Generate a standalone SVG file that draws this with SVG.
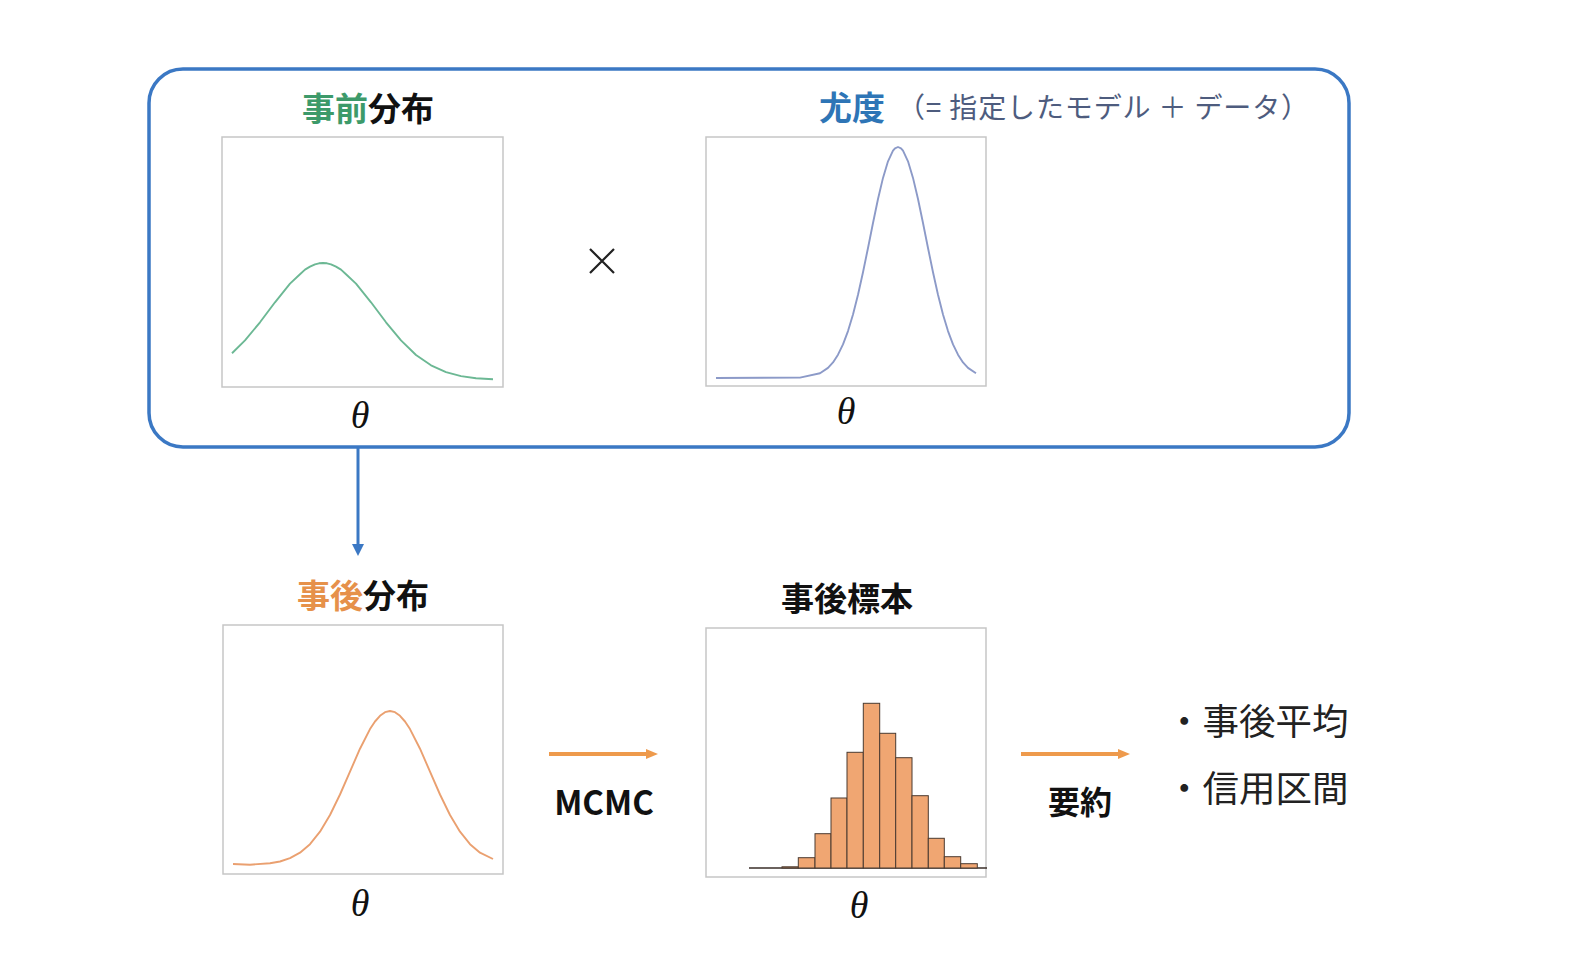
<svg xmlns="http://www.w3.org/2000/svg" width="1570" height="956" viewBox="0 0 1570 956">
<style>
.box{fill:#fff;stroke:#c6c6c6;stroke-width:1.5}
.jp{font-family:"Noto Sans CJK JP","Noto Sans",sans-serif}
.b{font-weight:bold}
.theta{font-family:"Liberation Serif",serif;font-style:italic;font-size:38px;fill:#111;text-anchor:middle}
.curve{fill:none;stroke-width:1.9;stroke-linejoin:round}
.bar{fill:#f0a672;stroke:#4a3a30;stroke-width:1}
.oarrow{stroke:#ee9a4c;stroke-width:4;fill:none}
</style>
<defs>
<marker id="ah-blue" markerWidth="12" markerHeight="12" refX="3" refY="6" orient="auto" markerUnits="userSpaceOnUse" viewBox="0 0 12 12"><path d="M0,0 L12,6 L0,12 Z" fill="#3b78c4"/></marker>
<marker id="ah-or" markerWidth="12" markerHeight="10" refX="2" refY="5" orient="auto" markerUnits="userSpaceOnUse" viewBox="0 0 12 10"><path d="M0,0 L12,5 L0,10 Z" fill="#ee9a4c"/></marker>
</defs>
<rect width="1570" height="956" fill="#fff"/>

<g id="model-frame">
<rect x="149" y="69" width="1200" height="378" rx="34" ry="34" fill="none" stroke="#3b78c4" stroke-width="3.5"/>
</g>

<g id="prior">
<text x="302" y="121" class="jp b" font-size="33"><tspan fill="#3d9a6a">事前</tspan><tspan fill="#111">分布</tspan></text>
<rect class="box" x="222" y="137" width="281" height="250"/>
<path class="curve" stroke="#6cb894" d="M232,353.2 L245,340.4 L260,322.3 L275,302.3 L290,283.6 L300,274.2 L305,269.6 L310,266.6 L315,264.3 L319,263.3 L323,263 L327,263.3 L331,264.3 L336,266.6 L341,269.6 L346,274.2 L356,283.6 L371,302.3 L386,322.3 L401,340.4 L416,355 L431,365.3 L446,372.1 L461,376.1 L476,378.2 L493,379.3"/>
<text class="theta" x="360" y="428">θ</text>
</g>

<g id="times">
<path d="M590,249 L614,273 M614,249 L590,273" stroke="#222" stroke-width="2.2"/>
</g>

<g id="likelihood">
<text x="819" y="120" class="jp b" font-size="33" fill="#2e75b6">尤度</text>
<text x="897" y="118" class="jp" font-size="28" fill="#4e5c7e" textLength="412" lengthAdjust="spacing">（= 指定したモデル ＋ データ）</text>
<rect class="box" x="706" y="137" width="280" height="249"/>
<path class="curve" stroke="#8c9ac8" d="M716,378 L800,377.6 L820,373.2 L828,367.9 L833,362.4 L838,354.7 L843,344.4 L848,331.1 L853,314.5 L858,294.8 L863,272.2 L868,248 L873,223 L878,199 L883,177.9 L888,161.3 L893,150.7 L895,148.3 L898,147 L901,148.3 L903,150.7 L908,161.3 L913,177.9 L918,199 L923,223 L928,248 L933,272.2 L938,294.8 L943,314.5 L948,331.1 L953,344.4 L958,354.7 L963,362.4 L968,367.9 L976,373.2"/>
<text class="theta" x="846" y="424">θ</text>
</g>

<g id="connectors">
<line x1="358" y1="447" x2="358" y2="547" stroke="#3b78c4" stroke-width="3" marker-end="url(#ah-blue)"/>
<line class="oarrow" x1="549" y1="754" x2="648" y2="754" marker-end="url(#ah-or)"/>
<line class="oarrow" x1="1021" y1="754" x2="1120" y2="754" marker-end="url(#ah-or)"/>
<text x="604" y="815" class="jp b" font-size="33" fill="#111" text-anchor="middle">MCMC</text>
<text x="1080" y="814" class="jp b" font-size="32" fill="#111" text-anchor="middle">要約</text>
</g>

<g id="posterior">
<text x="297" y="608" class="jp b" font-size="33"><tspan fill="#e6914a">事後</tspan><tspan fill="#111">分布</tspan></text>
<rect class="box" x="223" y="625" width="280" height="249"/>
<path class="curve" stroke="#eaa070" d="M233,864 L250,864.7 L270,863.3 L280,861.5 L290,858.2 L300,852.7 L310,844.2 L320,831.7 L330,815 L340,794.5 L350,771.6 L360,748.7 L370,729.1 L375,721.5 L380,715.8 L385,712.2 L390,711 L395,712.2 L400,715.8 L405,721.5 L410,729.1 L420,748.7 L430,771.6 L440,794.5 L450,815 L460,831.7 L470,844.2 L480,852.7 L493,859"/>
<text class="theta" x="360" y="916">θ</text>
</g>

<g id="samples">
<text x="781" y="611" class="jp b" font-size="33" fill="#111">事後標本</text>
<rect class="box" x="706" y="628" width="280" height="249"/>
<line x1="749" y1="868" x2="987" y2="868" stroke="#3a2e28" stroke-width="1.5"/>
<rect class="bar" x="782" y="866.8" width="16.3" height="1.2"/>
<rect class="bar" x="798.3" y="857.7" width="16.7" height="10.3"/>
<rect class="bar" x="815" y="833.7" width="16" height="34.3"/>
<rect class="bar" x="831" y="798" width="16" height="70"/>
<rect class="bar" x="847" y="752.3" width="16.3" height="115.7"/>
<rect class="bar" x="863.3" y="703.3" width="16.4" height="164.7"/>
<rect class="bar" x="879.7" y="733.3" width="16" height="134.7"/>
<rect class="bar" x="895.7" y="757.7" width="16.3" height="110.3"/>
<rect class="bar" x="912" y="795.7" width="16.3" height="72.3"/>
<rect class="bar" x="928.3" y="838.3" width="16" height="29.7"/>
<rect class="bar" x="944.3" y="856.7" width="16.4" height="11.3"/>
<rect class="bar" x="960.7" y="863.7" width="16.6" height="4.3"/>
<text class="theta" x="859" y="918">θ</text>
</g>

<g id="summary">
<text x="1166" y="735" class="jp" font-size="36.5" fill="#222">・事後平均</text>
<text x="1166" y="802" class="jp" font-size="36.5" fill="#222">・信用区間</text>
</g>
</svg>
